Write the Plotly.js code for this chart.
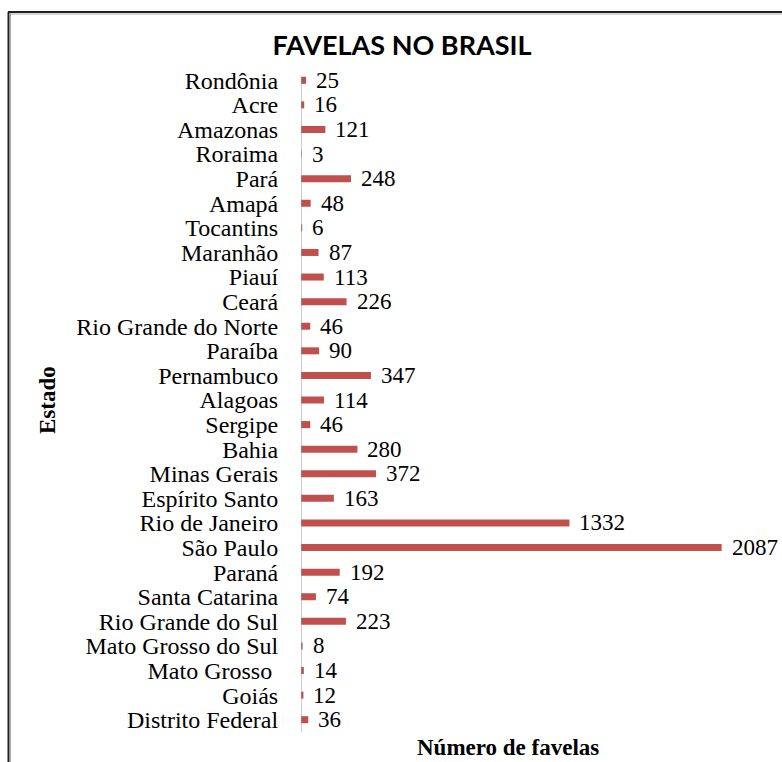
<!DOCTYPE html>
<html>
<head>
<meta charset="utf-8">
<script src="https://cdn.plot.ly/plotly-3.0.1.min.js"></script>
<style>
html,body{margin:0;padding:0;background:#fff;}
#chart{width:782px;height:762px;}
</style>
</head>
<body>
<div id="chart"></div>
<script>
var estados = ["Rondônia","Acre","Amazonas","Roraima","Pará","Amapá","Tocantins","Maranhão","Piauí","Ceará","Rio Grande do Norte","Paraíba","Pernambuco","Alagoas","Sergipe","Bahia","Minas Gerais","Espírito Santo","Rio de Janeiro","São Paulo","Paraná","Santa Catarina","Rio Grande do Sul","Mato Grosso do Sul","Mato Grosso\u00a0","Goiás","Distrito Federal"];
var favelas = [25,16,121,3,248,48,6,87,113,226,46,90,347,114,46,280,372,163,1332,2087,192,74,223,8,14,12,36];

var serif = "Liberation Serif";

var trace = {
  type: 'bar',
  orientation: 'h',
  x: favelas,
  y: estados,
  marker: {color: '#C0504D'},
  hoverinfo: 'x+y'
};

var annotations = favelas.map(function(v, i){
  return {x: v, y: estados[i], xref: 'x', yref: 'y', text: String(v), showarrow: false,
    xanchor: 'left', yanchor: 'middle', xshift: 8, font: {family: serif, size: 23, color: '#000'}};
});
annotations.push({xref:'paper', yref:'paper', x:(508-301)/469, y:(732-747)/664, text:'<b>Número de favelas</b>',
  showarrow:false, xanchor:'center', yanchor:'middle', font:{family:serif, size:23, color:'#000'}});
annotations.push({xref:'paper', yref:'paper', x:(47-301)/469, y:(732-400)/664, text:'<b>Estado</b>', textangle:-90,
  showarrow:false, xanchor:'center', yanchor:'middle', font:{family:serif, size:23, color:'#000'}});

var layout = {
  width: 782, height: 762,
  margin: {l: 301, r: 12, t: 68, b: 30, pad: 0, autoexpand: false},
  paper_bgcolor: '#fff', plot_bgcolor: '#fff',
  showlegend: false,
  bargap: 0.715,
  title: {text: '<b>FAVELAS NO BRASIL</b>', font: {family: "Lato", size: 27, color: '#000'},
    xref: 'container', yref: 'container', x: 402/782, xanchor: 'center', y: 1 - 46/762, yanchor: 'middle'},
  xaxis: {range: [0, 2327], showgrid: false, zeroline: false, showline: false, showticklabels: false, ticks: '', fixedrange: true},
  yaxis: {range: [estados.length - 0.5, -0.5], type: 'category', automargin: false, showgrid: false, zeroline: false, showline: false,
    tickmode: 'array', tickvals: estados, ticktext: estados,
    ticks: 'outside', ticklen: 17, tickcolor: 'rgba(0,0,0,0)',
    tickfont: {family: serif, size: 24, color: '#000'}, fixedrange: true},
  annotations: annotations,
  shapes: [
    {type:'line', xref:'x', yref:'y', x0:0, x1:0, y0:-0.15, y1:26.75, line:{color:'#9a9a9a', width:1}},
    {type:'line', xref:'paper', yref:'paper', x0:(8.5-301)/469, x1:(8.5-301)/469, y0:-0.2, y1:(732-12)/664, line:{color:'#222', width:2}},
    {type:'line', xref:'paper', yref:'paper', x0:(10.5-301)/469, x1:(10.5-301)/469, y0:-0.2, y1:(732-13)/664, line:{color:'#aaa', width:1}},
    {type:'line', xref:'paper', yref:'paper', x0:(8-301)/469, x1:1.2, y0:(732-12)/664, y1:(732-12)/664, line:{color:'#222', width:2}},
    {type:'line', xref:'paper', yref:'paper', x0:(10-301)/469, x1:1.2, y0:(732-14)/664, y1:(732-14)/664, line:{color:'#aaa', width:1}}
  ]
};

Plotly.newPlot('chart', [trace], layout, {displayModeBar: false, staticPlot: true});
</script>
</body>
</html>
